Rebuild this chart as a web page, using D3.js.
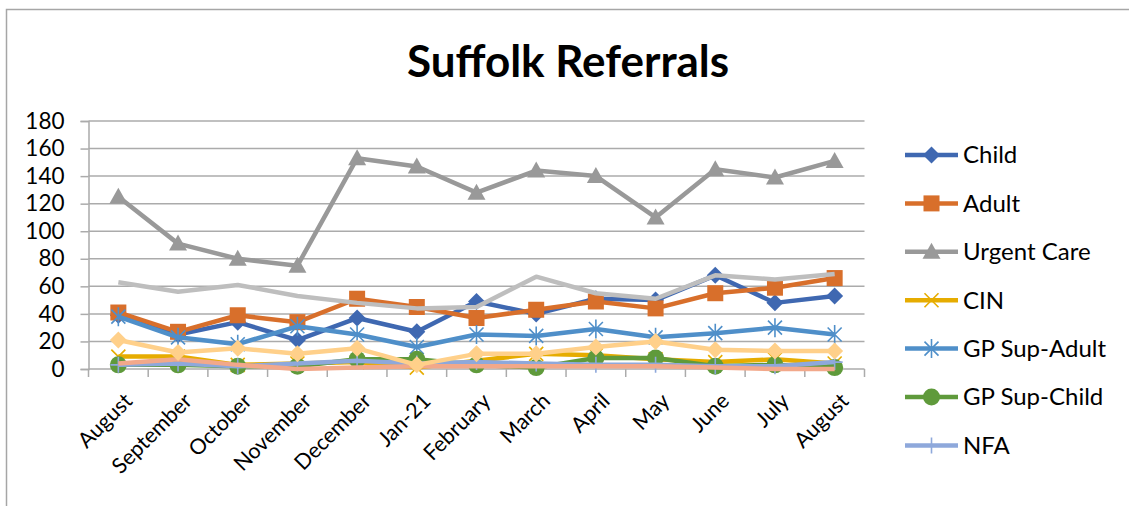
<!DOCTYPE html>
<html><head><meta charset="utf-8">
<script src="https://cdn.jsdelivr.net/npm/d3@7"></script>
<style>body{margin:0;background:#fff;} svg{display:block;}</style>
</head><body>
<svg id="chart" width="1129" height="506"></svg>
<script>
const categories = ["August","September","October","November","December","Jan-21","February","March","April","May","June","July","August"];
const yTicks = [0,20,40,60,80,100,120,140,160,180];

const child       = [39,25,34,21,37,27,49,40,51,50,68,48,53];
const adult       = [41,27,39,34,51,45,37,43,49,44,55,59,66];
const urgentCare  = [125,91,80,75,153,147,128,144,140,110,145,139,151];
const cin         = [9,9,3,4,5,1,6,11,10,7,5,7,4];
const gpSupAdult  = [38,23,18,31,25,16,25,24,29,23,26,30,25];
const gpSupChild  = [3,3,2,2,7,7,3,1,8,8,2,3,1];
const nfa         = [3,4,2,4,6,4,5,4,3,3,2,2,5];
const series8     = [4,7,3,0,1,2,2,2,2,2,1,0,0];
const series9     = [63,56,61,53,48,44,45,67,55,51,68,65,69];
const series10    = [21,12,15,11,15,3,11,11,16,20,14,13,13];

const series = [
  {name:"Child", values:child, color:"#3F68B1", marker:"diamond", legend:true},
  {name:"Adult", values:adult, color:"#D86F2B", marker:"square", legend:true},
  {name:"Urgent Care", values:urgentCare, color:"#999999", marker:"triangle", legend:true},
  {name:"CIN", values:cin, color:"#E6AC00", marker:"x", legend:true},
  {name:"GP Sup-Adult", values:gpSupAdult, color:"#4F8FC9", marker:"asterisk", legend:true},
  {name:"GP Sup-Child", values:gpSupChild, color:"#5F9A3B", marker:"circle", legend:true},
  {name:"NFA", values:nfa, color:"#8EA8DB", marker:"plus", legend:true},
  {name:"Series8", values:series8, color:"#F2A88A", marker:"none", legend:false},
  {name:"Series9", values:series9, color:"#BEBEBE", marker:"none", legend:false},
  {name:"Series10", values:series10, color:"#FFD08A", marker:"diamond", legend:false}
];

const svg = d3.select("#chart");
const font = "Lato, 'Open Sans', sans-serif";
const gridColor = "#ababab";

// outer border
svg.append("rect").attr("x",6.5).attr("y",9.5).attr("width",1140).attr("height",520)
  .attr("fill","none").attr("stroke","#a6a6a6").attr("stroke-width",1.5);

// title
svg.append("text").attr("x",568).attr("y",77).attr("text-anchor","middle")
  .attr("font-family",font).attr("font-weight","bold").attr("font-size",44)
  .attr("fill","#000").text("Suffolk Referrals");

const pLeft = 88.5, pRight = 864.5, pTop = 121, pBottom = 369;
const x = d3.scaleBand().domain(d3.range(categories.length)).range([pLeft,pRight]).paddingInner(0).paddingOuter(0);
const y = d3.scaleLinear().domain([0,180]).range([pBottom,pTop]);
const cx = i => x(i) + x.bandwidth()/2;

// gridlines
svg.append("g").selectAll("line").data(yTicks.filter(d=>d>0)).join("line")
  .attr("x1",pLeft).attr("x2",pRight).attr("y1",d=>y(d)).attr("y2",d=>y(d))
  .attr("stroke",gridColor).attr("stroke-width",1.5);

// y axis
const yAxis = svg.append("g").attr("transform",`translate(${pLeft},0)`)
  .call(d3.axisLeft(y).tickValues(yTicks).tickSize(8).tickPadding(16).tickFormat(d3.format("d")));
yAxis.select(".domain").attr("stroke",gridColor).attr("stroke-width",1.5);
yAxis.selectAll(".tick line").attr("stroke",gridColor).attr("stroke-width",1.5);
yAxis.selectAll("text").attr("font-family",font).attr("font-size",22.5).attr("fill","#000");

// x axis
const xAxis = svg.append("g").attr("transform",`translate(0,${pBottom})`)
  .call(d3.axisBottom(x).tickSize(0).tickFormat(""));
xAxis.select(".domain").attr("stroke",gridColor).attr("stroke-width",1.5).attr("d",`M${pLeft},0H${pRight}`);
const bounds = d3.range(categories.length).map(i=>x(i)).concat([pRight]);
xAxis.append("g").selectAll("line").data(bounds).join("line")
  .attr("x1",d=>d).attr("x2",d=>d).attr("y1",0).attr("y2",8)
  .attr("stroke",gridColor).attr("stroke-width",1.5);
xAxis.append("g").selectAll("text").data(categories).join("text")
  .attr("transform",(d,i)=>`translate(${cx(i)+10},${28}) rotate(-45)`)
  .attr("text-anchor","end").attr("dy","0.35em")
  .attr("font-family",font).attr("font-size",21.5).attr("fill","#000")
  .text(d=>d);

function drawMarker(g, type, color){
  if(type==="diamond") g.append("path").attr("d","M0,-8.5L8.5,0L0,8.5L-8.5,0Z").attr("fill",color);
  else if(type==="square") g.append("rect").attr("x",-8).attr("y",-8).attr("width",16).attr("height",16).attr("fill",color);
  else if(type==="triangle") g.append("path").attr("d","M0,-9L9,7L-9,7Z").attr("fill",color);
  else if(type==="circle") g.append("circle").attr("r",8.5).attr("fill",color);
  else if(type==="x"){
    g.append("path").attr("d","M-7,-7L7,7M-7,7L7,-7").attr("stroke",color).attr("stroke-width",1.6).attr("fill","none");
  } else if(type==="asterisk"){
    g.append("path").attr("d","M-7,-7L7,7M-7,7L7,-7M0,-9.5L0,9.5").attr("stroke",color).attr("stroke-width",1.6).attr("fill","none");
  } else if(type==="plus"){
    g.append("path").attr("d","M-8,0L8,0M0,-8L0,8").attr("stroke",color).attr("stroke-width",1.6).attr("fill","none");
  }
}

const line = d3.line().x((d,i)=>cx(i)).y(d=>y(d));
const plot = svg.append("g");
series.forEach(s=>{
  const g = plot.append("g");
  g.append("path").attr("d",line(s.values)).attr("fill","none")
    .attr("stroke",s.color).attr("stroke-width",4.5).attr("stroke-linejoin","round");
  if(s.marker!=="none"){
    s.values.forEach((v,i)=>{
      const m = g.append("g").attr("transform",`translate(${cx(i)},${y(v)})`);
      drawMarker(m, s.marker, s.color);
    });
  }
});

// legend
const legendItems = series.filter(s=>s.legend);
const lg = svg.append("g");
legendItems.forEach((s,i)=>{
  const yy = 155 + i*48.4;
  const g = lg.append("g").attr("transform",`translate(0,${yy})`);
  g.append("line").attr("x1",905).attr("x2",958).attr("y1",0).attr("y2",0)
    .attr("stroke",s.color).attr("stroke-width",4.5);
  const m = g.append("g").attr("transform","translate(931.5,0)");
  drawMarker(m, s.marker, s.color);
  g.append("text").attr("x",963).attr("y",0).attr("dy","0.35em")
    .attr("font-family",font).attr("font-size",24).attr("fill","#000").text(s.name);
});
</script>
</body></html>
